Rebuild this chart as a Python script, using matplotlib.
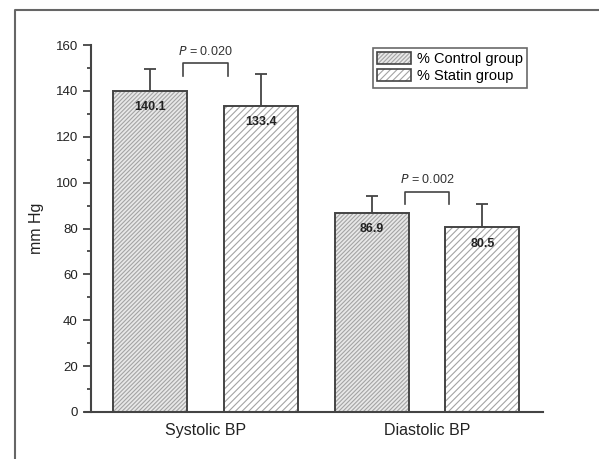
import numpy as np
import matplotlib.pyplot as plt
from matplotlib.lines import Line2D

plt.rcParams['font.family'] = ['Liberation Sans', 'DejaVu Sans']
plt.rcParams['hatch.linewidth'] = 0.8

# data
categories = ['Systolic BP', 'Diastolic BP']
groups = ['% Control group', '% Statin group']
control_means = [140.1, 86.9]
statin_means = [133.4, 80.5]
control_err = [9.4, 7.2]
statin_err = [14.0, 10.2]
p_labels = ['0.020', '0.002']
bracket_top = [152, 96]
bracket_leg = [146.3, 90.8]

fig = plt.figure(figsize=(5.99, 4.59), dpi=100)
ax = fig.add_axes([91/599, 1-412/459, (543-91)/599, (412-45)/459])

x = np.arange(len(categories))
w = 0.334
off = 0.25
edge = '#444444'
hatch_col = '#a4a4a4'

# hatched fill (hatch takes the edge colour), then a dark outline on top
ax.bar(x - off, control_means, w, color='#e8e8e8', edgecolor=hatch_col,
       hatch='/' * 8, linewidth=0, zorder=2)
ax.bar(x + off, statin_means, w, color='white', edgecolor=hatch_col,
       hatch='/' * 5, linewidth=0, zorder=2)
ax.bar(x - off, control_means, w, fill=False, edgecolor=edge, linewidth=1.4, zorder=2.5)
ax.bar(x + off, statin_means, w, fill=False, edgecolor=edge, linewidth=1.4, zorder=2.5)

ax.errorbar(x - off, control_means, yerr=[np.zeros(2), control_err], fmt='none',
            ecolor=edge, elinewidth=1.3, capsize=4, capthick=1.3, zorder=1)
ax.errorbar(x + off, statin_means, yerr=[np.zeros(2), statin_err], fmt='none',
            ecolor=edge, elinewidth=1.3, capsize=4, capthick=1.3, zorder=1)

for xi, v in zip(x - off, control_means):
    ax.text(xi, v - 4.5, f'{v:.1f}', ha='center', va='top', fontsize=9,
            fontweight='bold', color='#222222', zorder=3)
for xi, v in zip(x + off, statin_means):
    ax.text(xi, v - 4.5, f'{v:.1f}', ha='center', va='top', fontsize=9,
            fontweight='bold', color='#222222', zorder=3)

# significance brackets
for xi, top, leg, p in zip(x, bracket_top, bracket_leg, p_labels):
    ax.plot([xi - 0.1, xi - 0.1, xi + 0.1, xi + 0.1], [leg, top, top, leg],
            color=edge, lw=1.2, clip_on=False)
    ax.text(xi, top + 2.5, '$P$ = ' + p, ha='center', va='bottom',
            fontsize=9, color='#333333')

ax.set_xlim(-0.517, 1.524)
ax.set_ylim(0, 160)
ax.set_yticks(np.arange(0, 161, 20))
ax.set_yticks(np.arange(10, 160, 20), minor=True)
ax.set_xticks(x)
ax.set_xticklabels(categories, fontsize=11.5, color='#222222')
ax.tick_params(axis='x', length=0, pad=8)
ax.tick_params(axis='y', which='major', length=6, width=1.3, colors=edge,
               labelsize=9.5, labelcolor='#222222')
ax.tick_params(axis='y', which='minor', length=3, width=1.3, colors=edge)
ax.set_ylabel('mm Hg', fontsize=11.5, color='#222222', labelpad=8)

for s in ['top', 'right']:
    ax.spines[s].set_visible(False)
for s in ['left', 'bottom']:
    ax.spines[s].set_color(edge)
    ax.spines[s].set_linewidth(1.5)
ax.spines['bottom'].set_bounds(-0.545, 1.524)

# legend handles drawn the same way as the bars
h1 = plt.Rectangle((0, 0), 1, 1, facecolor='#e8e8e8', edgecolor=hatch_col,
                   hatch='/' * 8, linewidth=0)
h2 = plt.Rectangle((0, 0), 1, 1, facecolor='white', edgecolor=hatch_col,
                   hatch='/' * 5, linewidth=0)
o1 = plt.Rectangle((0, 0), 1, 1, fill=False, edgecolor=edge, linewidth=1.2)
o2 = plt.Rectangle((0, 0), 1, 1, fill=False, edgecolor=edge, linewidth=1.2)
leg = ax.legend([(h1, o1), (h2, o2)], groups, loc='upper right',
                bbox_to_anchor=(527/599, 1-48/459),
                bbox_transform=fig.transFigure, fontsize=10.5, frameon=True,
                fancybox=False, edgecolor=edge, handlelength=2.3,
                handleheight=0.9, handletextpad=0.4, borderpad=0.3,
                labelspacing=0.2, borderaxespad=0)
leg.get_frame().set_linewidth(1.2)

# outer frame of the figure
fig.add_artist(Line2D([15/599, 15/599, 1], [0, 1-10/459, 1-10/459],
                      transform=fig.transFigure, color='#666666', lw=1.5))

fig.savefig('out.png', dpi=100)
